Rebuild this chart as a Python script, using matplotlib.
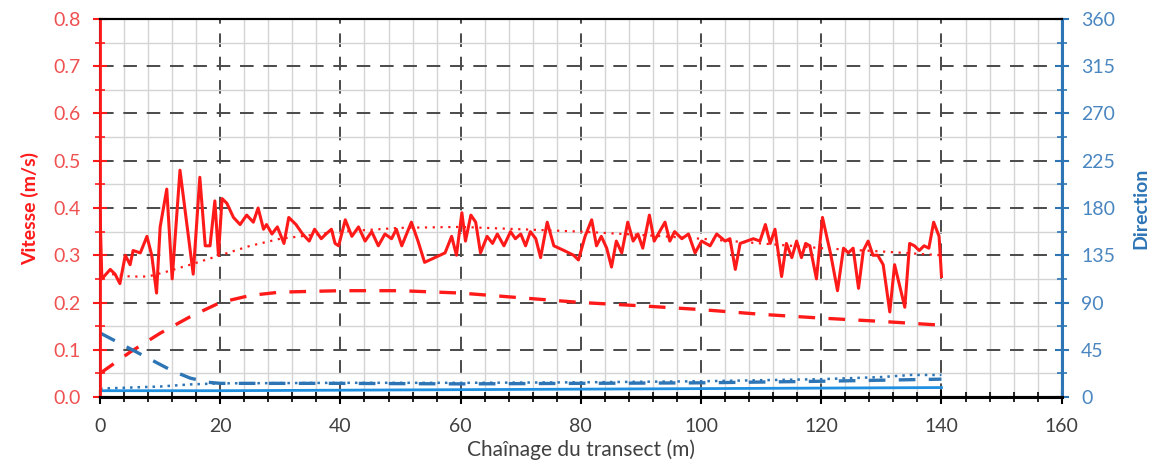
import numpy as np
import matplotlib
matplotlib.use("Agg")
import matplotlib.pyplot as plt
from matplotlib.ticker import MultipleLocator

plt.rcParams['font.family'] = ['Lato', 'DejaVu Sans']

# ---------------- data ----------------
# measured velocity along the transect (m/s)
vel_x = [0.0, 0.3, 1.7, 2.5, 3.3, 4.2, 5.0, 5.5, 6.7, 7.8, 8.6, 9.4, 10.0, 11.1, 12.0,
         13.3, 15.5, 16.6, 17.5, 18.3, 19.1, 19.7, 20.3, 21.1, 22.2, 23.3, 24.4, 25.5,
         26.3, 27.2, 27.7, 28.6, 29.5, 30.6, 31.4, 32.6, 33.7, 34.8, 35.7, 36.8, 37.6,
         38.5, 39.1, 39.7, 40.8, 41.9, 43.0, 44.1, 45.2, 46.3, 47.4, 48.5, 49.3, 50.2,
         51.8, 52.9, 54.0, 55.7, 57.4, 58.5, 59.3, 60.2, 60.8, 61.7, 62.5, 63.3, 64.4,
         65.3, 66.1, 67.2, 68.3, 69.1, 70.0, 70.8, 71.6, 72.5, 73.3, 74.4, 75.5, 77.2,
         78.8, 79.6, 80.7, 81.8, 82.6, 83.4, 84.3, 85.1, 85.9, 86.8, 87.8, 88.7, 89.5,
         90.3, 91.4, 92.2, 93.1, 94.0, 94.8, 95.6, 96.8, 97.9, 99.0, 100.1, 101.5, 102.6,
         104.0, 104.8, 105.7, 106.5, 107.6, 108.7, 109.8, 110.7, 111.5, 112.3, 113.4,
         114.2, 115.1, 115.9, 116.7, 117.4, 118.1, 119.2, 120.2, 121.6, 122.7, 123.7,
         124.5, 125.3, 126.2, 127.0, 127.8, 128.6, 129.4, 130.3, 131.4, 132.2, 133.9,
         134.7, 135.5, 136.3, 137.1, 137.9, 138.7, 139.6, 140.0]
vel_y = [0.39, 0.25, 0.27, 0.26, 0.24, 0.30, 0.28, 0.31, 0.305, 0.34, 0.30, 0.22, 0.36,
         0.44, 0.25, 0.48, 0.26, 0.465, 0.32, 0.32, 0.415, 0.30, 0.42, 0.41, 0.38, 0.365,
         0.385, 0.37, 0.40, 0.355, 0.365, 0.345, 0.36, 0.325, 0.38, 0.365, 0.345, 0.33,
         0.355, 0.335, 0.345, 0.355, 0.325, 0.32, 0.375, 0.34, 0.36, 0.33, 0.35, 0.32,
         0.345, 0.335, 0.355, 0.32, 0.37, 0.33, 0.285, 0.295, 0.305, 0.34, 0.30, 0.39,
         0.33, 0.385, 0.37, 0.305, 0.34, 0.325, 0.345, 0.32, 0.35, 0.335, 0.345, 0.32,
         0.35, 0.335, 0.295, 0.37, 0.32, 0.31, 0.30, 0.29, 0.34, 0.375, 0.32, 0.34,
         0.315, 0.275, 0.33, 0.305, 0.37, 0.33, 0.345, 0.315, 0.385, 0.33, 0.35, 0.37,
         0.33, 0.35, 0.335, 0.345, 0.305, 0.33, 0.32, 0.345, 0.33, 0.335, 0.27, 0.325,
         0.33, 0.335, 0.33, 0.365, 0.325, 0.355, 0.255, 0.325, 0.295, 0.33, 0.295, 0.325,
         0.32, 0.25, 0.38, 0.30, 0.225, 0.315, 0.305, 0.315, 0.23, 0.31, 0.33, 0.30,
         0.30, 0.28, 0.18, 0.28, 0.19, 0.325, 0.32, 0.31, 0.32, 0.315, 0.37, 0.34, 0.255]

# smoothed velocity trend (dotted red)
trend_x = [2, 5, 8, 11, 15, 20, 25, 30, 40, 50, 60, 70, 80, 90, 100, 110, 120, 130, 140]
trend_y = [0.26, 0.255, 0.255, 0.265, 0.28, 0.30, 0.32, 0.335, 0.35, 0.358, 0.36, 0.355,
           0.35, 0.343, 0.335, 0.325, 0.315, 0.308, 0.30]

# second velocity profile (dashed red)
dash_x = [0, 5, 10, 15, 20, 25, 30, 40, 50, 60, 70, 80, 90, 100, 110, 120, 130, 140]
dash_y = [0.05, 0.095, 0.135, 0.17, 0.20, 0.215, 0.222, 0.225, 0.225, 0.22, 0.21, 0.20,
          0.193, 0.185, 0.175, 0.167, 0.16, 0.152]

# direction curves (degrees)
dir_dash_x = [0, 3, 6, 9, 12, 15, 18, 20, 40, 60, 80, 100, 120, 130, 140]
dir_dash_y = [61, 52, 43, 34, 25, 18, 14, 13, 13, 12.5, 13, 13.5, 15, 16, 17]
dir_dot_x = [0, 5, 10, 15, 20, 40, 60, 80, 100, 120, 130, 135, 140]
dir_dot_y = [8, 9, 10, 12, 13, 13.5, 13.5, 14, 15, 17, 19, 21, 21]
dir_sol_x = [0, 20, 40, 60, 80, 100, 120, 140]
dir_sol_y = [6, 6, 6.5, 7, 7.5, 8, 8.5, 9]

RED = '#ff1a1a'
BLUE = '#2e75b6'
LBLUE = '#1f8fe0'

# ---------------- plot ----------------
fig = plt.figure(figsize=(11.54, 4.69), dpi=100)
ax = fig.add_axes([0.0867, 0.1535, 0.8333, 0.806])
ax2 = ax.twinx()

ax.set_xlim(0, 160)
ax.set_ylim(0, 0.8)
ax2.set_ylim(0, 360)

ax.xaxis.set_major_locator(MultipleLocator(20))
ax.xaxis.set_minor_locator(MultipleLocator(4))
ax.yaxis.set_major_locator(MultipleLocator(0.1))
ax.yaxis.set_minor_locator(MultipleLocator(0.05))
ax2.yaxis.set_major_locator(MultipleLocator(45))
ax2.yaxis.set_minor_locator(MultipleLocator(22.5))

ax.grid(which='minor', color='#d4d4d4', lw=1.0, ls='-', zorder=0)
ax.grid(which='major', color='#4a4a4a', lw=1.4, ls=(0, (7, 5)), zorder=0)
ax.set_axisbelow(True)

ax.plot(vel_x, vel_y, color=RED, lw=2.2, zorder=5)
ax.plot(trend_x, trend_y, color=RED, lw=1.6, ls=(0, (1, 2.5)), zorder=4)
ax.plot(dash_x, dash_y, color=RED, lw=2.4, ls=(0, (5, 4)), zorder=4)

ax2.plot(dir_sol_x, dir_sol_y, color=LBLUE, lw=2.0)
ax2.plot(dir_dot_x, dir_dot_y, color=BLUE, lw=1.8, ls=(0, (1, 2)))
ax2.plot(dir_dash_x, dir_dash_y, color=BLUE, lw=2.4, ls=(0, (5, 4)))

ax.yaxis.set_major_formatter(matplotlib.ticker.FormatStrFormatter('%.1f'))

for a in (ax, ax2):
    for s in a.spines.values():
        s.set_linewidth(1.5)
ax2.spines['left'].set_color(RED)
ax2.spines['left'].set_linewidth(2.0)
ax2.spines['right'].set_color(BLUE)
ax2.spines['right'].set_linewidth(2.2)
ax2.spines['top'].set_color('black')
ax2.spines['bottom'].set_color('black')
ax2.spines['bottom'].set_linewidth(2.2)

ax.tick_params(axis='x', which='major', direction='inout', length=10, width=1.5,
               colors='black', labelcolor='#404040', labelsize=14, pad=10)
ax.tick_params(axis='x', which='minor', direction='inout', length=7, width=1.2, colors='black')
ax.tick_params(axis='y', which='major', direction='inout', length=10, width=1.5,
               colors=RED, labelcolor='#ef5050', labelsize=14, pad=9)
ax.tick_params(axis='y', which='minor', direction='inout', length=7, width=1.2, colors=RED)
ax2.tick_params(axis='y', which='major', direction='inout', length=10, width=1.5,
                colors=BLUE, labelcolor='#4a86c0', labelsize=14, pad=9)
ax2.tick_params(axis='y', which='minor', direction='inout', length=7, width=1.2, colors=BLUE)

ax.set_xlabel('Chaînage du transect (m)', fontsize=15, color='#404040')
ax.set_ylabel('Vitesse (m/s)', fontsize=14, color=RED, fontweight='bold')
ax2.set_ylabel('Direction', fontsize=14, color=BLUE, fontweight='bold')
ax.xaxis.set_label_coords(0.5, -0.112)
ax.yaxis.set_label_coords(-0.063, 0.5)
ax2.yaxis.set_label_coords(1.074, 0.5)

fig.savefig('out.png', dpi=100)
